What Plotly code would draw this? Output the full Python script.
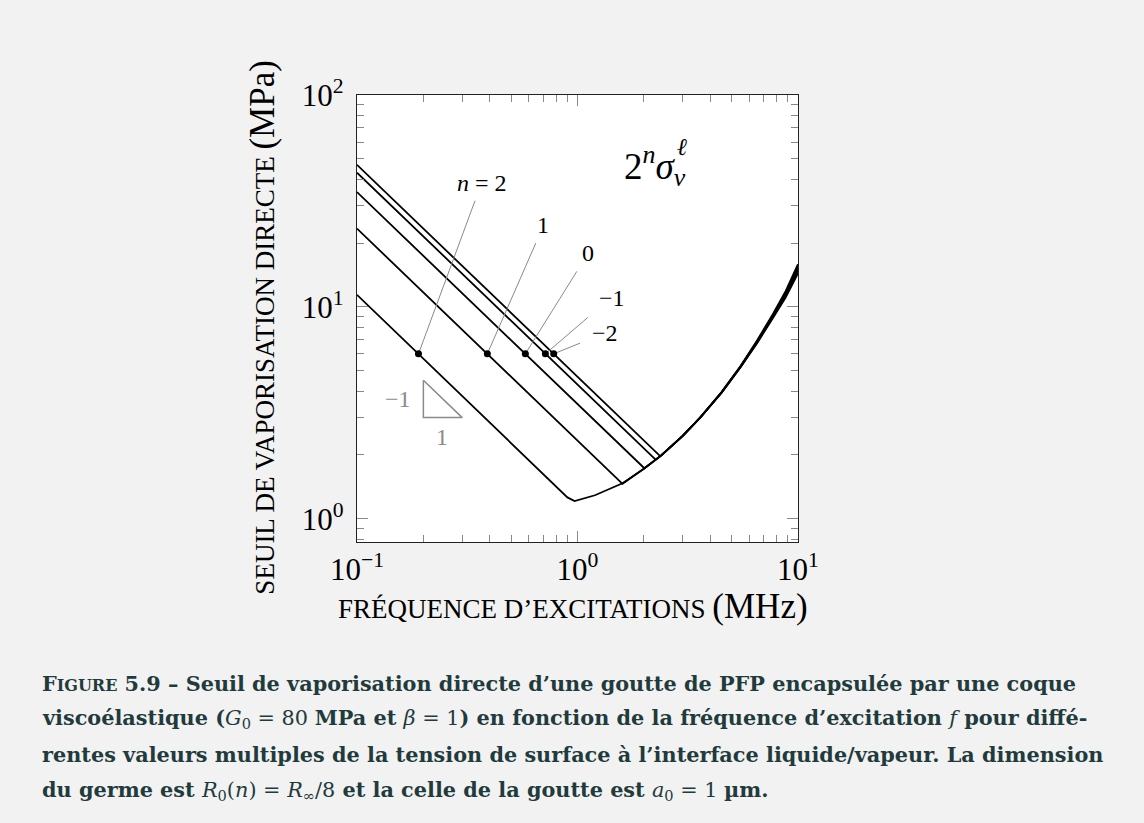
import numpy as np
import plotly.graph_objects as go

# courbes de seuil pour n = 2, 1, 0, -1, -2
N_LABELS = ['n = 2', '1', '0', '−1', '−2']

freq_n2 = [0.1, 0.9, 0.97, 1.2, 1.6, 2.0, 2.4, 3.0, 3.6, 4.5, 5.5, 6.5, 7.7, 8.8, 10]
seuil_n2 = [11.4, 1.26, 1.21, 1.29, 1.47, 1.72, 1.99, 2.46, 3.0, 3.92, 5.2, 6.7, 8.85, 11.1, 14.4]

freq_n1 = [0.1, 1.6, 2.0, 2.4, 3.0, 3.6, 4.5, 5.5, 6.5, 7.7, 8.8, 10]
seuil_n1 = [23.4, 1.46, 1.72, 1.99, 2.46, 3.0, 3.93, 5.21, 6.75, 8.95, 11.3, 14.8]

freq_n0 = [0.1, 2.01, 2.4, 3.0, 3.6, 4.5, 5.5, 6.5, 7.7, 8.8, 10]
seuil_n0 = [34.8, 1.73, 1.99, 2.46, 3.0, 3.94, 5.23, 6.8, 9.05, 11.5, 15.1]

freq_nm1 = [0.1, 2.26, 2.4, 3.0, 3.6, 4.5, 5.5, 6.5, 7.7, 8.8, 10]
seuil_nm1 = [43.0, 1.9, 1.99, 2.46, 3.0, 3.95, 5.25, 6.85, 9.15, 11.7, 15.5]

freq_nm2 = [0.1, 2.37, 3.0, 3.6, 4.5, 5.5, 6.5, 7.7, 8.8, 10]
seuil_nm2 = [46.8, 1.975, 2.46, 3.0, 3.96, 5.27, 6.9, 9.25, 11.9, 15.9]

# points repères (f, seuil) et extrémités des traits de rappel
dot_freq = [0.19, 0.39, 0.58, 0.715, 0.78]
dot_seuil = [6, 6, 6, 6, 6]
leader_freq = [0.343, 0.647, 0.993, 1.113, 1.027]
leader_seuil = [31.7, 20.0, 14.7, 8.9, 6.74]
label_freq = [0.368, 0.70, 1.12, 1.43, 1.33]
label_seuil = [38.3, 24.4, 17.9, 11.0, 7.5]

# triangle de pente -1
tri_freq = [0.2, 0.2, 0.3, 0.2]
tri_seuil = [4.5, 3.0, 3.0, 4.5]

CAPTION = [
    "<b>F<span style='font-size:16px'>IGURE</span> 5.9 – Seuil de vaporisation directe d’une goutte de PFP encapsulée par une coque</b>",
    "<b>viscoélastique (</b><i>G</i><sub>0</sub> = 80 <b>MPa et </b><i>β</i> = 1<b>) en fonction de la fréquence d’excitation </b><i>f</i><b> pour diffé-</b>",
    "<b>rentes valeurs multiples de la tension de surface à l’interface liquide/vapeur. La dimension</b>",
    "<b>du germe est </b><i>R</i><sub>0</sub>(<i>n</i>) = <i>R</i><sub>∞</sub>/8<b> et la celle de la goutte est </b><i>a</i><sub>0</sub> = 1 <b>µm.</b>",
]

SERIF = 'Liberation Serif'
GREY = '#8a8a8a'
CAPTION_COLOR = '#1f3b3c'

fig = go.Figure()

series = [(freq_n2, seuil_n2), (freq_n1, seuil_n1), (freq_n0, seuil_n0),
          (freq_nm1, seuil_nm1), (freq_nm2, seuil_nm2)]
for (f, s), name in zip(series, N_LABELS):
    fig.add_trace(go.Scatter(x=f, y=s, mode='lines', name=name,
                             line=dict(color='black', width=1.8)))

for i in range(len(dot_freq)):
    fig.add_trace(go.Scatter(x=[dot_freq[i], leader_freq[i]], y=[dot_seuil[i], leader_seuil[i]],
                             mode='lines', line=dict(color=GREY, width=1)))

fig.add_trace(go.Scatter(x=dot_freq, y=dot_seuil, mode='markers',
                         marker=dict(color='black', size=7)))

fig.add_trace(go.Scatter(x=tri_freq, y=tri_seuil, mode='lines',
                         line=dict(color=GREY, width=1.5)))

for i, lab in enumerate(N_LABELS):
    txt = '<i>n</i> = 2' if i == 0 else lab
    fig.add_annotation(x=np.log10(label_freq[i]), y=np.log10(label_seuil[i]), text=txt,
                       showarrow=False, font=dict(family=SERIF, size=24, color='black'))

fig.add_annotation(x=np.log10(0.154), y=np.log10(3.68), text='−1', showarrow=False,
                   font=dict(family=SERIF, size=24, color=GREY))
fig.add_annotation(x=np.log10(0.243), y=np.log10(2.44), text='1', showarrow=False,
                   font=dict(family=SERIF, size=24, color=GREY))

fig.add_annotation(x=np.log10(2.25), y=np.log10(46), text='2<sup><i>n</i></sup><i>σ</i><sub><i>v</i></sub>',
                   showarrow=False, font=dict(family=SERIF, size=37, color='black'))
fig.add_annotation(x=np.log10(2.98), y=np.log10(57), text='<i>ℓ</i>',
                   showarrow=False, font=dict(family=SERIF, size=24, color='black'))

# titres des axes
fig.add_annotation(xref='paper', yref='paper', x=0.49, y=-0.145, yanchor='middle',
                   text="FRÉQUENCE D’EXCITATIONS <span style='font-size:35px'>(MHz)</span>",
                   showarrow=False, font=dict(family=SERIF, size=27, color='black'))
fig.add_annotation(xref='paper', yref='paper', x=-0.215, y=0.48, xanchor='center', textangle=-90,
                   text="SEUIL DE VAPORISATION DIRECTE <span style='font-size:35px'>(MPa)</span>",
                   showarrow=False, font=dict(family=SERIF, size=27, color='black'))

for k, line in enumerate(CAPTION):
    fig.add_annotation(xref='paper', yref='paper', x=(40 - 357) / 441, y=(542 - 683 - 35.7 * k) / 447,
                       xanchor='left', yanchor='middle', align='left', text=line, showarrow=False,
                       font=dict(family='DejaVu Serif', size=20.8, color=CAPTION_COLOR))

axis_style = dict(showline=True, linecolor='#222', linewidth=1.3, mirror='allticks',
                  ticks='inside', ticklen=11, tickcolor='#888', tickwidth=1,
                  showgrid=False, zeroline=False,
                  tickfont=dict(family=SERIF, size=31, color='black'),
                  minor=dict(ticks='inside', ticklen=7, tickcolor='#888', tickwidth=1,
                             dtick='D1', showgrid=False))

fig.update_xaxes(type='log', range=[-1, 1], tickvals=[0.1, 1, 10],
                 ticktext=['10<sup>−1</sup>', '10<sup>0</sup>', '10<sup>1</sup>'], **axis_style)
fig.update_yaxes(type='log', range=[np.log10(0.776), 2], tickvals=[1, 10, 100],
                 ticktext=['10<sup>0</sup>', '10<sup>1</sup>', '10<sup>2</sup>'],
                 ticklabelstandoff=6, **axis_style)

fig.update_layout(width=1144, height=823, showlegend=False,
                  margin=dict(l=357, r=346, t=95, b=281),
                  paper_bgcolor='#f2f2f2', plot_bgcolor='white')

fig.write_html("out.html", config={'displayModeBar': False},
               post_script="document.body.style.margin='0';document.body.style.background='#f2f2f2';")
